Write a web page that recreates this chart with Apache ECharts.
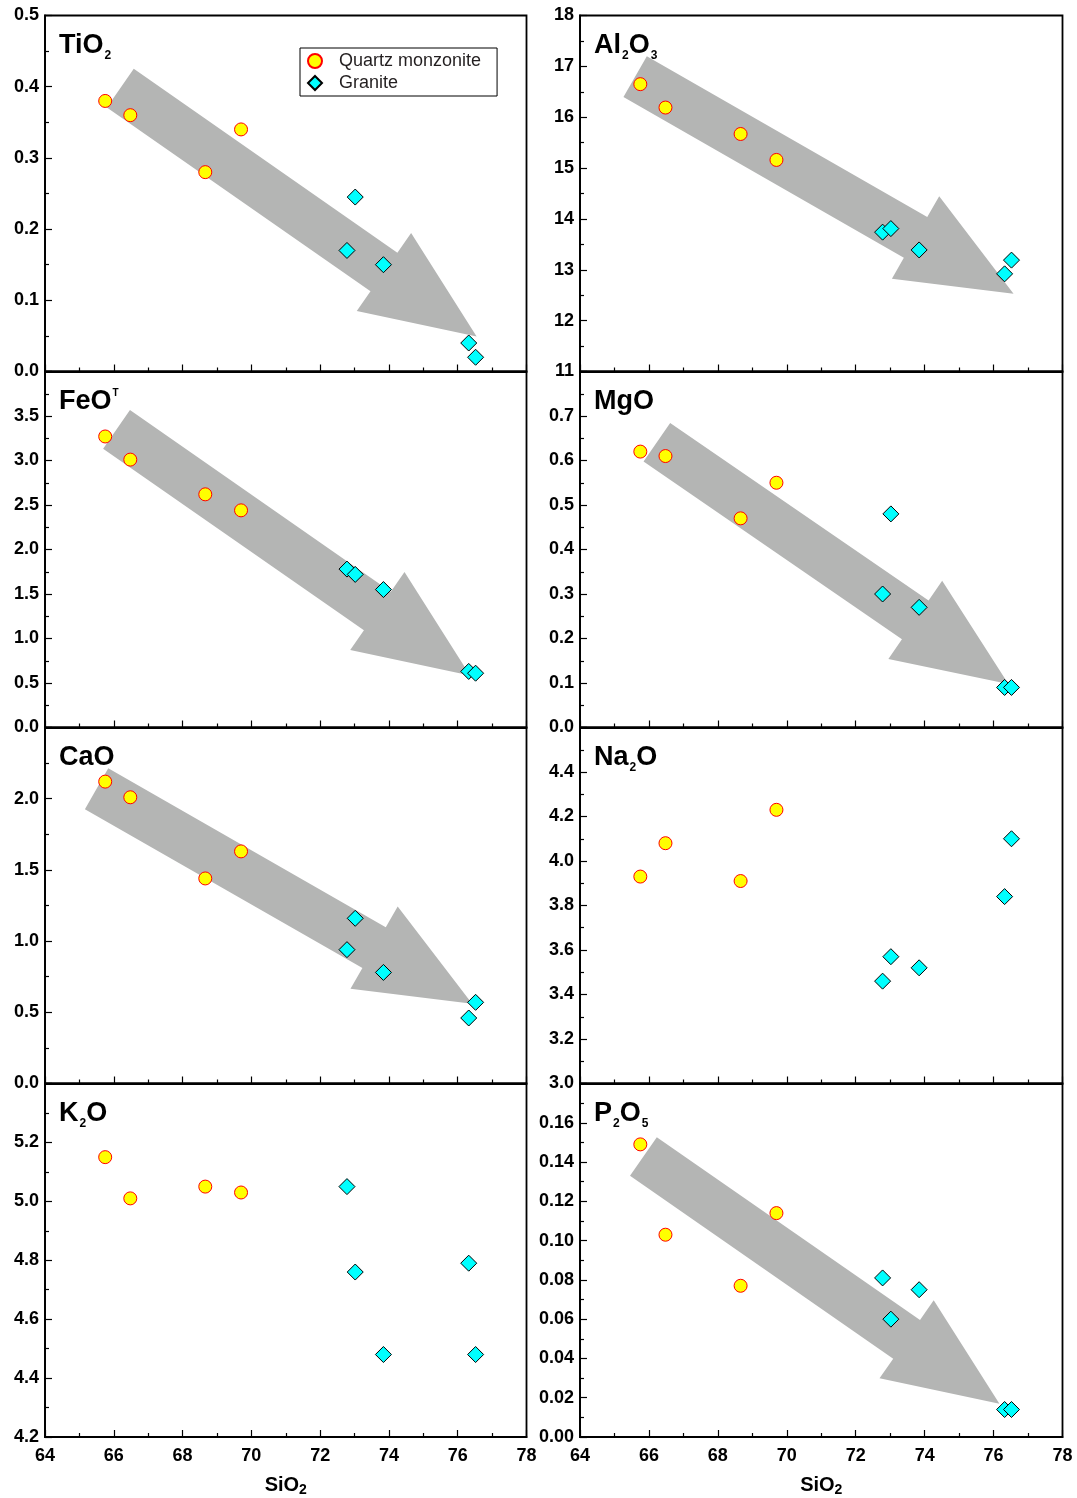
<!DOCTYPE html>
<html><head><meta charset="utf-8">
<script src="https://cdn.jsdelivr.net/npm/echarts@6/dist/echarts.min.js"></script>
<style>html,body{margin:0;padding:0;background:#fff}#c{width:1077px;height:1498px}</style>
</head><body><div id="c"></div>
<script>
// ---- data ----
const SiO2_QM = [65.75, 66.48, 68.66, 69.70];
const SiO2_GR = [72.78, 73.02, 73.84, 76.32, 76.52];

const TiO2_QM  = [0.38, 0.36, 0.28, 0.34];
const TiO2_GR  = [0.17, 0.245, 0.15, 0.04, 0.02];
const Al2O3_QM = [16.65, 16.19, 15.67, 15.16];
const Al2O3_GR = [13.74, 13.81, 13.39, 12.92, 13.19];
const FeOT_QM  = [3.27, 3.01, 2.62, 2.44];
const FeOT_GR  = [1.78, 1.72, 1.55, 0.63, 0.61];
const MgO_QM   = [0.62, 0.61, 0.47, 0.55];
const MgO_GR   = [0.30, 0.48, 0.27, 0.09, 0.09];
const CaO_QM   = [2.12, 2.01, 1.44, 1.63];
const CaO_GR   = [0.94, 1.16, 0.78, 0.46, 0.57];
const Na2O_QM  = [3.93, 4.08, 3.91, 4.23];
const Na2O_GR  = [3.46, 3.57, 3.52, 3.84, 4.10];
const K2O_QM   = [5.15, 5.01, 5.05, 5.03];
const K2O_GR   = [5.05, 4.76, 4.48, 4.79, 4.48];
const P2O5_QM  = [0.149, 0.103, 0.077, 0.114];
const P2O5_GR  = [0.081, 0.060, 0.075, 0.014, 0.014];

// trend arrows: [tailX, tailY, tipX, tipY] in data units
const TiO2_ARROW  = [66.19, 0.398, 76.55, 0.049];
const Al2O3_ARROW = [65.60, 16.80, 76.58, 12.53];
const FeOT_ARROW  = [66.08, 3.35, 76.36, 0.584];
const MgO_ARROW   = [66.23, 0.641, 76.43, 0.098];
const CaO_ARROW   = [65.50, 2.07, 76.42, 0.56];
const P2O5_ARROW  = [65.84, 0.1428, 76.17, 0.0169];

// axis scales: [min, max, interval, decimals]
const X_SCALE     = [64, 78, 2, 0];
const TiO2_SCALE  = [0, 0.5, 0.1, 1];
const Al2O3_SCALE = [11, 18, 1, 0];
const FeOT_SCALE  = [0, 4, 0.5, 1];
const MgO_SCALE   = [0, 0.8, 0.1, 1];
const CaO_SCALE   = [0, 2.5, 0.5, 1];
const Na2O_SCALE  = [3.0, 4.6, 0.2, 1];
const K2O_SCALE   = [4.2, 5.4, 0.2, 1];
const P2O5_SCALE  = [0, 0.18, 0.02, 2];

const SERIES_NAMES = ['Quartz monzonite', 'Granite'];
const X_NAME = 'SiO{s|2}';

const panels = [
  {label:'{b|TiO}{s|2}', qm:TiO2_QM, gr:TiO2_GR, arrow:TiO2_ARROW, scale:TiO2_SCALE},
  {label:'{b|Al}{s|2}{b|O}{s|3}', qm:Al2O3_QM, gr:Al2O3_GR, arrow:Al2O3_ARROW, scale:Al2O3_SCALE},
  {label:'{b|FeO}{sup|T}', qm:FeOT_QM, gr:FeOT_GR, arrow:FeOT_ARROW, scale:FeOT_SCALE},
  {label:'{b|MgO}', qm:MgO_QM, gr:MgO_GR, arrow:MgO_ARROW, scale:MgO_SCALE},
  {label:'{b|CaO}', qm:CaO_QM, gr:CaO_GR, arrow:CaO_ARROW, scale:CaO_SCALE},
  {label:'{b|Na}{s|2}{b|O}', qm:Na2O_QM, gr:Na2O_GR, arrow:null, scale:Na2O_SCALE},
  {label:'{b|K}{s|2}{b|O}', qm:K2O_QM, gr:K2O_GR, arrow:null, scale:K2O_SCALE},
  {label:'{b|P}{s|2}{b|O}{s|5}', qm:P2O5_QM, gr:P2O5_GR, arrow:P2O5_ARROW, scale:P2O5_SCALE}
];

// ---- layout / style ----
const FONT = '"Liberation Sans", Arial, Helvetica, sans-serif';
const COL_LEFT = [45, 580];
const COL_WIDTH = [481.5, 482.5];
const ROW_TOP = [15.5, 371.5, 727.5, 1083.5];
const ROW_H = 356;
const LINE_W = 1.8;
const ARROW_SHAFT = 47, ARROW_HEAD_W = 95, ARROW_HEAD_L = 113;
const labelRich = {
  b: {fontFamily: FONT, fontSize: 27, fontWeight: 'bold', color: '#231f20'},
  s: {fontFamily: FONT, fontSize: 12, fontWeight: 'bold', color: '#231f20', padding: [19, 0, 0, 1]},
  sup: {fontFamily: FONT, fontSize: 10, fontWeight: 'bold', color: '#231f20', padding: [0, 0, 17, 1]}
};

function arrowItem(params, api) {
  const a = api.coord([api.value(0), api.value(1)]);
  const b = api.coord([api.value(2), api.value(3)]);
  const dx = b[0] - a[0], dy = b[1] - a[1], L = Math.hypot(dx, dy);
  const ux = dx / L, uy = dy / L, nx = -uy, ny = ux;
  const sw = ARROW_SHAFT / 2, hw = ARROW_HEAD_W / 2;
  const bx = b[0] - ux * ARROW_HEAD_L, by = b[1] - uy * ARROW_HEAD_L;
  const pts = [
    [a[0] + nx * sw, a[1] + ny * sw], [bx + nx * sw, by + ny * sw], [bx + nx * hw, by + ny * hw],
    [b[0], b[1]],
    [bx - nx * hw, by - ny * hw], [bx - nx * sw, by - ny * sw], [a[0] - nx * sw, a[1] - ny * sw]
  ];
  return {type: 'polygon', shape: {points: pts}, style: {fill: '#b4b5b4'}};
}

const grids = [], xAxes = [], yAxes = [], series = [], graphics = [];
panels.forEach((p, i) => {
  const col = i % 2, row = Math.floor(i / 2);
  const isBottom = row === 3;
  grids.push({left: COL_LEFT[col], top: ROW_TOP[row], width: COL_WIDTH[col], height: ROW_H,
    show: true, borderColor: '#000', borderWidth: LINE_W, backgroundColor: 'transparent', containLabel: false});
  xAxes.push({
    gridIndex: i, type: 'value', min: X_SCALE[0], max: X_SCALE[1], interval: X_SCALE[2],
    axisLine: {show: true, onZero: false, lineStyle: {color: '#000', width: LINE_W}},
    axisTick: {show: true, inside: true, length: 7, lineStyle: {color: '#000', width: 1.2}},
    minorTick: {show: true, splitNumber: 2, length: 4, lineStyle: {color: '#000', width: 1.2}},
    splitLine: {show: false},
    axisLabel: {show: isBottom, fontFamily: FONT, fontSize: 18, fontWeight: 'bold', color: '#000', margin: 10,
      formatter: v => v.toFixed(X_SCALE[3])},
    name: isBottom ? X_NAME : '', nameLocation: 'middle', nameGap: 36,
    nameTextStyle: {fontFamily: FONT, fontSize: 20, fontWeight: 'bold', color: '#000',
      rich: {s: {fontFamily: FONT, fontSize: 14, fontWeight: 'bold', color: '#000', padding: [10, 0, 0, 0]}}}
  });
  const sc = p.scale;
  yAxes.push({
    gridIndex: i, type: 'value', min: sc[0], max: sc[1], interval: sc[2],
    axisLine: {show: true, onZero: false, lineStyle: {color: '#000', width: LINE_W}},
    axisTick: {show: true, inside: true, length: 7, lineStyle: {color: '#000', width: 1.2}},
    minorTick: {show: true, splitNumber: 2, length: 4, lineStyle: {color: '#000', width: 1.2}},
    splitLine: {show: false},
    axisLabel: {fontFamily: FONT, fontSize: 18, fontWeight: 'bold', color: '#000', margin: 6,
      showMaxLabel: row === 0, showMinLabel: true, formatter: v => v.toFixed(sc[3])}
  });
  if (p.arrow) {
    series.push({type: 'custom', xAxisIndex: i, yAxisIndex: i, renderItem: arrowItem,
      data: [p.arrow], z: 1, silent: true, clip: false});
  }
  series.push({type: 'scatter', name: SERIES_NAMES[0], xAxisIndex: i, yAxisIndex: i,
    data: SiO2_QM.map((x, k) => [x, p.qm[k]]), symbol: 'circle', symbolSize: 13, z: 3,
    itemStyle: {color: '#ffff00', borderColor: '#ff0000', borderWidth: 1, opacity: 1}});
  series.push({type: 'scatter', name: SERIES_NAMES[1], xAxisIndex: i, yAxisIndex: i,
    data: SiO2_GR.map((x, k) => [x, p.gr[k]]), symbol: 'diamond', symbolSize: 16, z: 4,
    itemStyle: {color: '#00ffff', borderColor: '#000', borderWidth: 1, opacity: 1}});
  graphics.push({type: 'text', left: COL_LEFT[col] + 14, top: ROW_TOP[row] + 17, z: 10,
    style: {text: p.label, rich: labelRich}});
});

const chart = echarts.init(document.getElementById('c'), null, {renderer: 'canvas'});
chart.setOption({
  backgroundColor: '#fff',
  animation: false,
  grid: grids, xAxis: xAxes, yAxis: yAxes, series: series, graphic: graphics,
  legend: {
    data: [{name: SERIES_NAMES[0], icon: 'circle'}, {name: SERIES_NAMES[1], icon: 'diamond'}],
    orient: 'vertical', left: 300, top: 48, padding: [4, 16, 4, 7], itemGap: 4,
    itemWidth: 14, itemHeight: 14, borderColor: '#000', borderWidth: 1, backgroundColor: '#fff',
    selectedMode: false,
    textStyle: {fontFamily: FONT, fontSize: 18, color: '#231f20', padding: [0, 0, 0, 12]}
  }
});
</script></body></html>
